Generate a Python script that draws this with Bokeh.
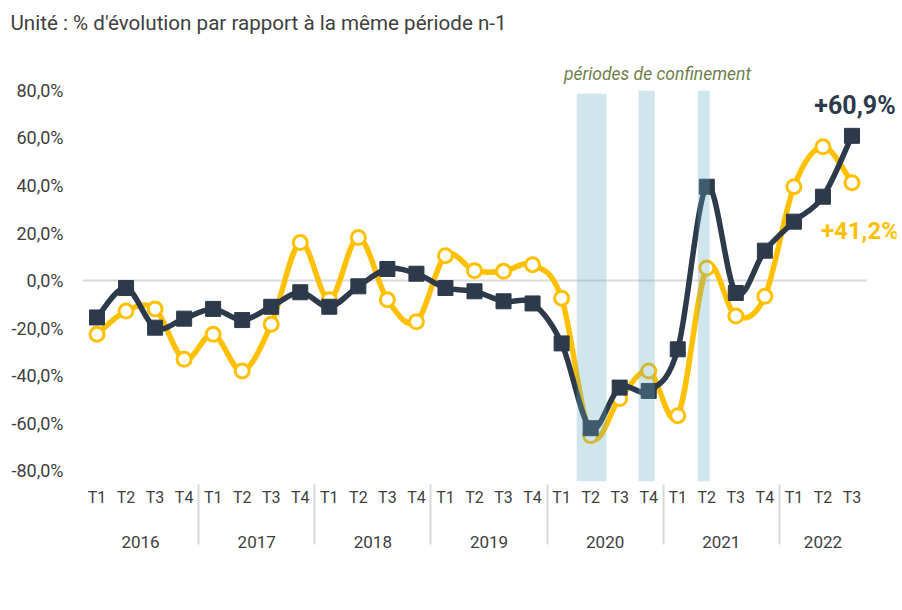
import numpy as np
from bokeh.plotting import figure
from bokeh.models import (Range1d, FactorRange, FixedTicker, Label,
                          Legend, LegendItem, ColumnDataSource)
from bokeh.embed import file_html
from bokeh.resources import INLINE

# ---------------- data ----------------
years = ["2016", "2017", "2018", "2019", "2020", "2021", "2022"]
quarters_per_year = [4, 4, 4, 4, 4, 4, 3]
quarter_names = ["T1", "T2", "T3", "T4"]

bretagne = [-22.6, -12.8, -11.9, -33.1,
            -22.6, -38.0, -18.4, 16.0,
            -8.0, 18.1, -8.0, -17.3,
            10.5, 4.2, 3.9, 6.7,
            -7.4, -65.2, -49.6, -38.0,
            -56.8, 5.3, -14.9, -6.6,
            39.5, 56.3, 41.2]
france = [-15.5, -3.1, -19.8, -16.0,
          -11.9, -16.6, -11.0, -4.9,
          -11.0, -2.4, 4.9, 2.9,
          -3.1, -4.5, -8.7, -9.6,
          -26.4, -62.1, -45.0, -46.4,
          -28.9, 39.5, -5.2, 12.6,
          24.8, 35.3, 60.9]

# lockdown periods, in quarter units from 2016 T1
lockdown_start = [17.02, 19.15, 21.19]
lockdown_end = [18.05, 19.71, 21.60]
lockdown_top = [78.6, 79.9, 79.9]

y_ticks = [-80, -60, -40, -20, 0, 20, 40, 60, 80]

# ---------------- helpers ----------------
# middle level left blank: it only spaces the year row from the quarter row
factors = [(y, " ", quarter_names[q]) for y, n in zip(years, quarters_per_year) for q in range(n)]
n = len(factors)
xs = np.arange(n) + 0.5   # synthetic coordinates of the factors


def bezier_source(ys):
    ys = np.asarray(ys, dtype=float)
    px = np.concatenate([[xs[0]], xs, [xs[-1]]])
    py = np.concatenate([[ys[0]], ys, [ys[-1]]])
    d = {k: [] for k in ("x0", "y0", "x1", "y1", "cx0", "cy0", "cx1", "cy1")}
    for i in range(1, len(px) - 2):
        d["x0"].append(px[i]); d["y0"].append(py[i])
        d["x1"].append(px[i + 1]); d["y1"].append(py[i + 1])
        d["cx0"].append(px[i] + (px[i + 1] - px[i - 1]) / 6)
        d["cy0"].append(py[i] + (py[i + 1] - py[i - 1]) / 6)
        d["cx1"].append(px[i + 1] - (px[i + 2] - px[i]) / 6)
        d["cy1"].append(py[i + 1] - (py[i + 2] - py[i]) / 6)
    return ColumnDataSource(d)


YELLOW = "#FFC000"
NAVY = "#2D3A4B"
TEXT = "#404040"
FONT = "Roboto"
Y0, Y1 = -84.5, 101.0
PAD = 1.033
PX_PER_UNIT = 2.378

p = figure(frame_width=844, frame_height=int(round((Y1 - Y0) * PX_PER_UNIT)),
           output_backend="svg", toolbar_location=None,
           x_range=FactorRange(factors=factors, factor_padding=0, subgroup_padding=0,
                               group_padding=0, range_padding=PAD,
                               range_padding_units="absolute"),
           y_range=Range1d(Y0, Y1),
           min_border_left=52, min_border_right=6,
           min_border_top=40, min_border_bottom=0)
p.outline_line_color = None
p.background_fill_color = "white"
p.border_fill_color = "white"

p.title.text = "Unité : % d'évolution par rapport à la même période n-1"
p.title.align = "left"
p.title.offset = -42
p.title.standoff = 11
p.title.text_font = FONT
p.title.text_font_size = "20.6px"
p.title.text_font_style = "normal"
p.title.text_color = TEXT

xaxis = p.xaxis[0]
xaxis.axis_line_color = None
xaxis.major_tick_line_color = None
xaxis.major_tick_out = 0
xaxis.major_tick_in = 0
xaxis.minor_tick_line_color = None
xaxis.axis_label_standoff = 0
xaxis.axis_label_text_font_size = "0px"
xaxis.major_label_text_font = FONT
xaxis.major_label_text_font_size = "16px"
xaxis.major_label_text_color = TEXT
xaxis.major_label_standoff = 6
xaxis.subgroup_text_font = FONT
xaxis.subgroup_text_font_size = "10px"
xaxis.subgroup_text_color = TEXT
xaxis.subgroup_text_font_style = "normal"
xaxis.group_text_font = FONT
xaxis.group_text_font_size = "17px"
xaxis.group_text_color = TEXT
xaxis.group_text_font_style = "normal"
xaxis.separator_line_color = "#d9d9d9"
xaxis.separator_line_width = 2

p.yaxis.ticker = FixedTicker(ticks=y_ticks)
p.yaxis.major_label_overrides = {t: f"{t:.1f}".replace(".", ",") + "%" for t in y_ticks}
p.yaxis.axis_line_color = None
p.yaxis.major_tick_line_color = None
p.yaxis.major_tick_out = 0
p.yaxis.major_tick_in = 0
p.yaxis.minor_tick_line_color = None
p.yaxis.major_label_text_font = FONT
p.yaxis.major_label_text_font_size = "18px"
p.yaxis.major_label_text_color = TEXT
p.yaxis.major_label_standoff = -11

p.xgrid.visible = False
ygrid = p.ygrid[0]
ygrid.ticker = FixedTicker(ticks=[0])
ygrid.grid_line_color = "#d9d9d9"
ygrid.grid_line_width = 2
if "cross_bounds" in ygrid.properties():
    ygrid.cross_bounds = (0, n)
else:
    ygrid.visible = False
    p.segment(x0=[0], x1=[n], y0=[0], y1=[0], line_color="#d9d9d9", line_width=2)

# Bretagne
bz_b = p.bezier(x0="x0", y0="y0", x1="x1", y1="y1", cx0="cx0", cy0="cy0", cx1="cx1", cy1="cy1",
                source=bezier_source(bretagne), line_color=YELLOW, line_width=5.5,
                line_cap="round", line_join="round")
sc_b = p.scatter(xs, bretagne, marker="circle", size=14, fill_color="white",
                 line_color=YELLOW, line_width=3)
# France
bz_f = p.bezier(x0="x0", y0="y0", x1="x1", y1="y1", cx0="cx0", cy0="cy0", cx1="cx1", cy1="cy1",
                source=bezier_source(france), line_color=NAVY, line_width=5.5,
                line_cap="round", line_join="round")
sc_f = p.scatter(xs, france, marker="square", size=15, fill_color=NAVY, line_color=NAVY)

# lockdown bands (on top, translucent)
p.quad(left=lockdown_start, right=lockdown_end, bottom=Y0, top=lockdown_top,
       fill_color="#66acc0", fill_alpha=0.3, line_color=None)

# annotations
p.add_layout(Label(x=19.8, y=86.75, text="périodes de confinement",
                   text_font=FONT, text_font_size="17.5px", text_font_style="italic",
                   text_color="#6f7f4c", text_align="center", text_baseline="middle"))
p.add_layout(Label(x=xs[-1], y=france[-1], x_offset=3, y_offset=30,
                   text="+" + f"{france[-1]:.1f}".replace(".", ",") + "%",
                   text_font=FONT, text_font_size="25px", text_font_style="bold",
                   text_color=NAVY, text_align="center", text_baseline="middle"))
p.add_layout(Label(x=xs[-1], y=bretagne[-1], x_offset=8, y_offset=-48,
                   text="+" + f"{bretagne[-1]:.1f}".replace(".", ",") + "%",
                   text_font=FONT, text_font_size="24px", text_font_style="bold",
                   text_color=YELLOW, text_align="center", text_baseline="middle"))

legend = Legend(items=[LegendItem(label="Bretagne", renderers=[bz_b, sc_b]),
                       LegendItem(label="France", renderers=[bz_f, sc_f])],
                orientation="horizontal", location="center",
                label_text_font=FONT, label_text_font_size="22px", label_text_color=TEXT,
                glyph_width=56, glyph_height=22, spacing=28, label_standoff=4,
                border_line_color=None, background_fill_alpha=0, padding=1, margin=0)
p.add_layout(legend, "below")

open("out.html", "w").write(file_html(p, INLINE))
